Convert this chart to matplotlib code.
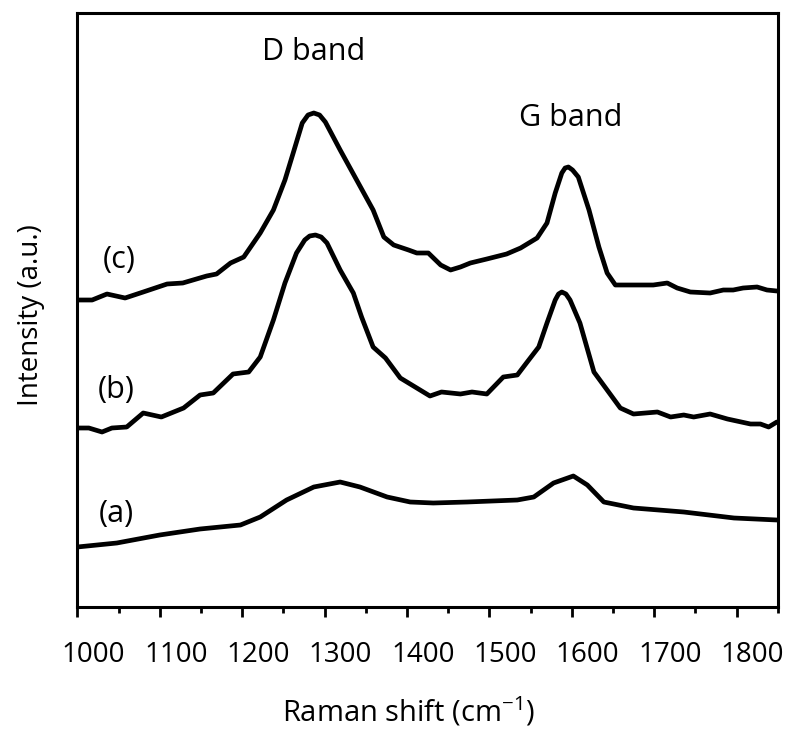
import matplotlib
matplotlib.use("Agg")
import matplotlib.pyplot as plt
from matplotlib.ticker import MultipleLocator
from matplotlib.transforms import ScaledTranslation

plt.rcParams['font.family'] = ['Open Sans', 'DejaVu Sans']
plt.rcParams['mathtext.fontset'] = 'custom'
plt.rcParams['mathtext.rm'] = 'Open Sans'
plt.rcParams['mathtext.it'] = 'Open Sans'

# Raman spectra (wavenumber in cm-1, intensity in arbitrary units, offset per trace)
wn_a = [1000, 1048, 1100, 1149, 1198, 1222, 1254, 1287, 1319, 1343, 1376, 1404,
        1432, 1473, 1534, 1554, 1578, 1602, 1619, 1639, 1675, 1736, 1797, 1849]
int_a = [60, 64, 72, 78, 82, 90, 107, 120, 125, 120, 110, 105,
         104, 105, 107, 110, 124, 131, 122, 105, 99, 95, 89, 87]

wn_b = [1000, 1014, 1030, 1042, 1060, 1080, 1102, 1129, 1149, 1165, 1189, 1208,
        1222, 1238, 1252, 1266, 1276, 1282, 1289, 1296, 1303, 1319, 1335, 1345,
        1359, 1374, 1392, 1416, 1428, 1442, 1465, 1479, 1497, 1517, 1534, 1546,
        1560, 1570, 1580, 1584, 1588, 1593, 1598, 1610, 1627, 1643, 1659, 1675,
        1704, 1720, 1736, 1748, 1768, 1789, 1817, 1829, 1839, 1849]
int_b = [179, 179, 175, 179, 180, 194, 190, 199, 212, 214, 233, 235,
         250, 287, 324, 354, 367, 371, 372, 370, 364, 337, 314, 290,
         260, 249, 229, 217, 211, 215, 213, 215, 213, 230, 232, 245,
         260, 284, 307, 313, 315, 313, 307, 284, 235, 217, 199, 193,
         195, 190, 192, 190, 193, 188, 183, 183, 180, 185]

wn_c = [1000, 1018, 1036, 1058, 1080, 1109, 1128, 1157, 1169, 1186, 1202, 1222,
        1238, 1252, 1262, 1273, 1280, 1287, 1294, 1301, 1319, 1339, 1359, 1372,
        1384, 1402, 1412, 1426, 1441, 1453, 1465, 1477, 1497, 1521, 1538, 1558,
        1570, 1580, 1588, 1592, 1596, 1601, 1608, 1621, 1633, 1643, 1653, 1675,
        1699, 1716, 1728, 1744, 1768, 1784, 1796, 1808, 1825, 1837, 1849]
int_c = [307, 307, 313, 309, 315, 323, 324, 331, 333, 344, 350, 374,
         397, 427, 454, 484, 492, 494, 492, 485, 457, 427, 397, 370,
         362, 357, 354, 354, 342, 337, 340, 344, 348, 353, 359, 369,
         384, 414, 434, 439, 440, 437, 430, 397, 360, 334, 322, 322,
         322, 324, 319, 315, 314, 317, 317, 319, 320, 317, 316]

xticks = [1000, 1100, 1200, 1300, 1400, 1500, 1600, 1700, 1800]

W, H = 788, 729
fig = plt.figure(figsize=(W / 100, H / 100), dpi=100)
ax = fig.add_axes([77.3 / W, 1 - 607 / H, (777.7 - 77.3) / W, (607 - 13) / H])

for wn, it in [(wn_a, int_a), (wn_b, int_b), (wn_c, int_c)]:
    ax.plot(wn, it, color='black', lw=3.4, solid_capstyle='round', solid_joinstyle='round')

ax.set_xlim(1000, 1850)
ax.set_ylim(0, 594)
ax.set_xticks(xticks)
ax.set_xticklabels([str(t) for t in xticks])
ax.xaxis.set_minor_locator(MultipleLocator(50))
ax.set_yticks([])
ax.tick_params(axis='x', which='major', direction='out', length=7.5, width=2,
               labelsize=20, pad=17)
ax.tick_params(axis='x', which='minor', direction='out', length=4, width=2)
for s in ax.spines.values():
    s.set_linewidth(2.2)

off = ScaledTranslation(16 / 100, 0, fig.dpi_scale_trans)
for lab in ax.get_xticklabels():
    lab.set_transform(lab.get_transform() + off)

def fx(x):
    return x / W

def fy(y):
    return 1 - y / H

fig.text(fx(314), fy(52.5), 'D band', fontsize=22, ha='center', va='center')
fig.text(fx(571), fy(118), 'G band', fontsize=22, ha='center', va='center')
fig.text(fx(119), fy(260), '(c)', fontsize=22, ha='center', va='center')
fig.text(fx(116), fy(390), '(b)', fontsize=22, ha='center', va='center')
fig.text(fx(116), fy(514), '(a)', fontsize=22, ha='center', va='center')

fig.text(fx(408), fy(722), r'Raman shift (cm$^{\mathregular{-1}}$)', fontsize=21,
         ha='center', va='baseline')
fig.text(fx(31), fy(315), 'Intensity (a.u.)', fontsize=20, rotation=90,
         ha='center', va='center')

fig.savefig('out.png', dpi=100)
